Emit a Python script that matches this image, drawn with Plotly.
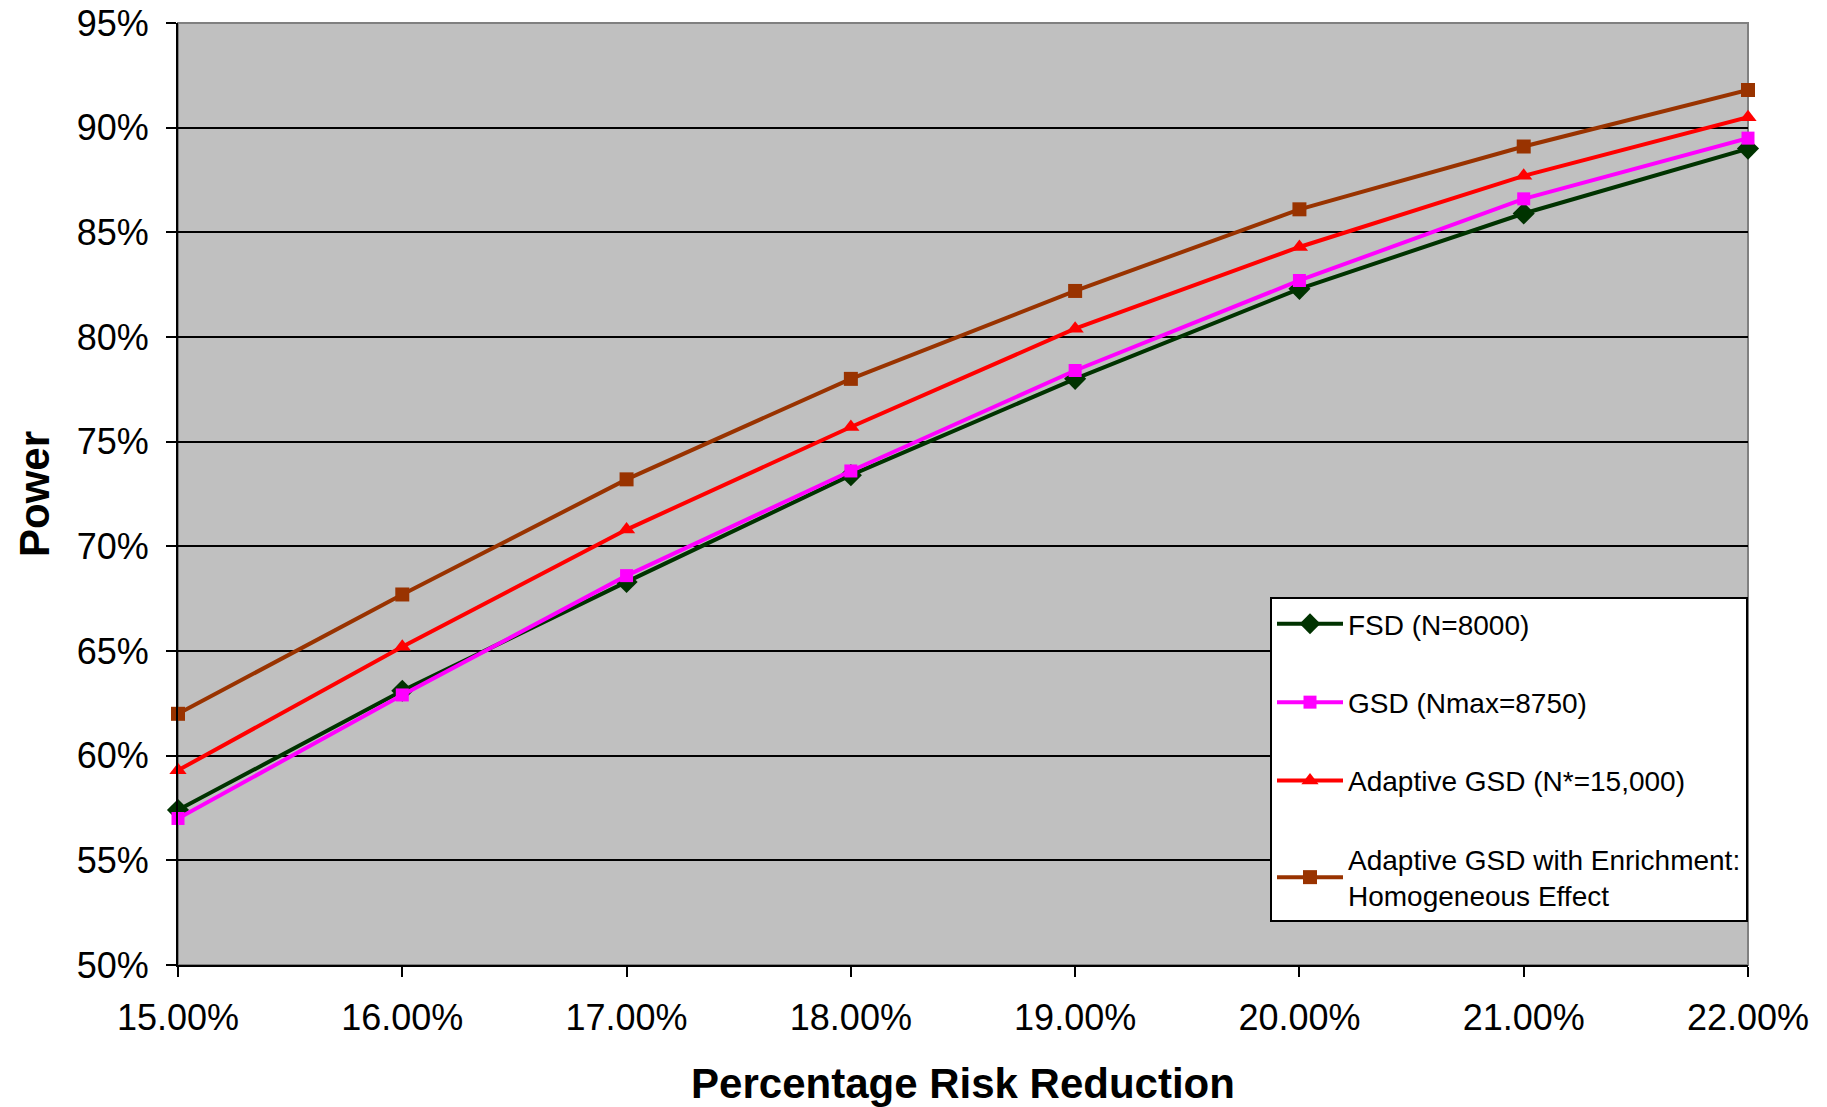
import plotly.graph_objects as go

risk_reduction = [15, 16, 17, 18, 19, 20, 21, 22]
fsd = [57.4, 63.1, 68.3, 73.4, 78.0, 82.3, 85.9, 89.0]
gsd = [57.0, 62.9, 68.6, 73.6, 78.4, 82.7, 86.6, 89.5]
adaptive = [59.3, 65.2, 70.8, 75.7, 80.4, 84.3, 87.7, 90.5]
enrich = [62.0, 67.7, 73.2, 78.0, 82.2, 86.1, 89.1, 91.8]

series_names = [
    "FSD (N=8000)",
    "GSD (Nmax=8750)",
    "Adaptive GSD (N*=15,000)",
    "Adaptive GSD with Enrichment:<br>Homogeneous Effect",
]
series_values = [fsd, gsd, adaptive, enrich]
colors = ["#003300", "#FF00FF", "#FF0000", "#993300"]
symbols = ["diamond", "square", "triangle-up", "square"]
sizes = [17, 13, 15, 14]

fig = go.Figure()
for i, (name, vals) in enumerate(zip(series_names, series_values)):
    fig.add_trace(go.Scatter(
        x=risk_reduction, y=vals, name=name, mode="lines+markers",
        line=dict(color=colors[i], width=4),
        marker=dict(symbol=symbols[i], size=sizes[i], color=colors[i]),
        cliponaxis=False, legendgroup=f"g{i}",
    ))

font_family = "Arial, Liberation Sans, sans-serif"
fig.update_layout(
    width=1827, height=1107,
    margin=dict(l=178, r=79, t=23, b=142),
    paper_bgcolor="white", plot_bgcolor="#C0C0C0",
    font=dict(family=font_family, color="black"),
    showlegend=True,
    legend=dict(
        x=1.0, y=0.0456, xanchor="right", yanchor="bottom",
        bgcolor="white", bordercolor="black", borderwidth=2,
        font=dict(size=28, family=font_family),
        tracegroupgap=39, itemwidth=66,
    ),
    xaxis=dict(
        range=[15, 22], tickvals=risk_reduction,
        ticktext=[f"{v:.2f}%" for v in risk_reduction],
        ticks="outside", ticklen=10, tickwidth=2, tickcolor="black",
        showline=True, linecolor="black", linewidth=2,
        showgrid=False, zeroline=False, automargin=False,
        tickfont=dict(size=36), ticklabelstandoff=10,
        title=dict(text="<b>Percentage Risk Reduction</b>", font=dict(size=42), standoff=42),
    ),
    yaxis=dict(
        range=[50, 95], dtick=5, ticksuffix="%",
        ticks="outside", ticklen=10, tickwidth=2, tickcolor="black",
        showline=True, linecolor="black", linewidth=2,
        showgrid=True, gridcolor="black", gridwidth=2, zeroline=False,
        automargin=False,
        tickfont=dict(size=36), ticklabelstandoff=10,
        title=dict(text="<b>Power</b>", font=dict(size=42), standoff=14),
    ),
    shapes=[dict(type="rect", xref="paper", yref="paper", x0=0, x1=1, y0=0, y1=1,
                 line=dict(color="#808080", width=2), layer="below")],
)

fig.write_html("out.html")
